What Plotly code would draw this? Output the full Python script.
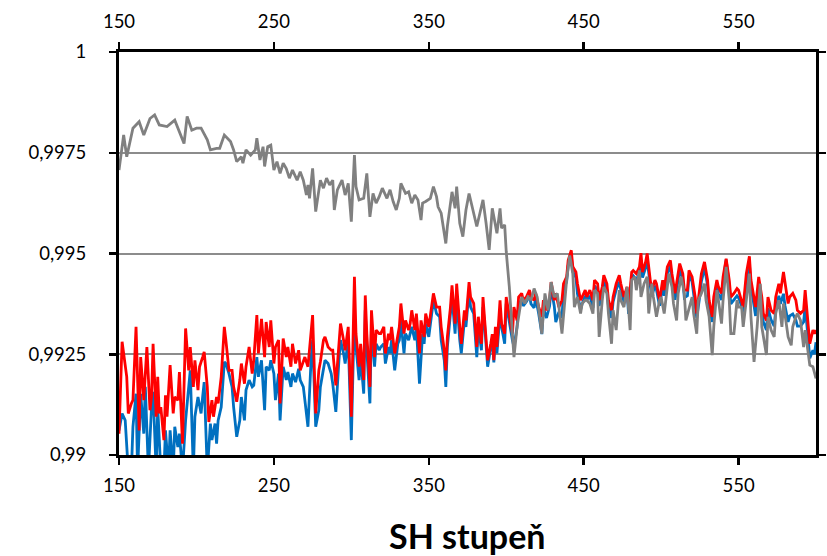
import plotly.graph_objects as go

# ---------------- data (SH degree, value) ----------------
gray_points = [
    (150, 0.99707), (153, 0.99794), (155, 0.99740), (157, 0.99773), (159, 0.99811),
    (163, 0.99827), (166, 0.99794), (170, 0.99835), (173, 0.99844), (176, 0.99819),
    (181, 0.99815), (186, 0.99831), (189, 0.99802), (192, 0.99773), (194, 0.99840),
    (197, 0.99806), (200, 0.99811), (203, 0.99811), (207, 0.99782), (209, 0.99757),
    (213, 0.99761), (215, 0.99761), (218, 0.99794), (222, 0.99778), (224, 0.99757),
    (226, 0.99728), (229, 0.99740), (230, 0.99724), (232, 0.99757), (235, 0.99744),
    (238, 0.99757), (239, 0.99786), (241, 0.99732), (243, 0.99765), (244, 0.99716),
    (246, 0.99765), (248, 0.99769), (250, 0.99707), (252, 0.99728), (254, 0.99699),
    (256, 0.99724), (258, 0.99711), (260, 0.99687), (262, 0.99707), (265, 0.99682),
    (267, 0.99703), (269, 0.99682), (271, 0.99645), (272, 0.99670), (273, 0.99637),
    (275, 0.99711), (277, 0.99604), (280, 0.99682), (282, 0.99662), (284, 0.99687),
    (286, 0.99670), (288, 0.99682), (289, 0.99608), (291, 0.99658), (294, 0.99682),
    (296, 0.99645), (298, 0.99674), (300, 0.99579), (302, 0.99744), (303, 0.99666),
    (305, 0.99633), (308, 0.99637), (310, 0.99699), (312, 0.99591), (314, 0.99649),
    (316, 0.99625), (318, 0.99641), (320, 0.99662), (323, 0.99637), (325, 0.99658),
    (327, 0.99629), (329, 0.99608), (331, 0.99637), (332, 0.99674), (335, 0.99649),
    (337, 0.99653), (339, 0.99625), (341, 0.99645), (343, 0.99633), (345, 0.99583),
    (346, 0.99625), (348, 0.99629), (351, 0.99637), (353, 0.99666), (355, 0.99641),
    (356, 0.99616), (358, 0.99600), (361, 0.99525), (362, 0.99567), (365, 0.99653),
    (367, 0.99612), (368, 0.99666), (370, 0.99575), (372, 0.99542), (374, 0.99608),
    (376, 0.99649), (379, 0.99600), (381, 0.99567), (383, 0.99600), (385, 0.99633),
    (387, 0.99575), (389, 0.99509), (391, 0.99612), (394, 0.99550), (396, 0.99612),
    (397, 0.99563), (399, 0.99571), (400, 0.99505), (402, 0.99417), (404, 0.99285),
    (405, 0.99243), (407, 0.99318), (410, 0.99392), (412, 0.99376), (414, 0.99392),
    (416, 0.99384), (418, 0.99413), (420, 0.99392), (423, 0.99301), (425, 0.99401),
    (427, 0.99359), (429, 0.99429), (431, 0.99392), (433, 0.99401), (436, 0.99301),
    (439, 0.99434), (441, 0.99495), (443, 0.99450), (444, 0.99367), (446, 0.99392),
    (448, 0.99351), (449, 0.99376), (451, 0.99384), (452, 0.99384), (454, 0.99376),
    (456, 0.99351), (457, 0.99409), (459, 0.99401), (460, 0.99293), (462, 0.99384),
    (463, 0.99417), (465, 0.99401), (466, 0.99351), (468, 0.99276), (469, 0.99359),
    (471, 0.99310), (473, 0.99409), (474, 0.99384), (476, 0.99367), (478, 0.99417),
    (480, 0.99310), (481, 0.99434), (483, 0.99442), (484, 0.99409), (486, 0.99458),
    (487, 0.99392), (489, 0.99425), (491, 0.99442), (492, 0.99351), (494, 0.99425),
    (495, 0.99392), (497, 0.99343), (499, 0.99384), (500, 0.99392), (502, 0.99351),
    (503, 0.99384), (505, 0.99450), (507, 0.99417), (508, 0.99376), (510, 0.99334),
    (511, 0.99401), (513, 0.99442), (515, 0.99401), (516, 0.99334), (518, 0.99367),
    (520, 0.99392), (521, 0.99351), (523, 0.99301), (524, 0.99384), (526, 0.99401),
    (528, 0.99425), (529, 0.99384), (531, 0.99343), (533, 0.99248), (534, 0.99318),
    (536, 0.99409), (537, 0.99384), (539, 0.99326), (540, 0.99384), (542, 0.99467),
    (544, 0.99384), (545, 0.99301), (547, 0.99301), (549, 0.99384), (550, 0.99367),
    (552, 0.99367), (553, 0.99318), (555, 0.99384), (557, 0.99450), (558, 0.99343),
    (560, 0.99231), (562, 0.99318), (564, 0.99425), (565, 0.99318), (567, 0.99268),
    (568, 0.99248), (569, 0.99343), (571, 0.99310), (573, 0.99293), (574, 0.99351),
    (576, 0.99384), (578, 0.99318), (579, 0.99376), (581, 0.99318), (582, 0.99293),
    (584, 0.99272), (585, 0.99318), (587, 0.99343), (588, 0.99351), (590, 0.99334),
    (592, 0.99268), (593, 0.99310), (595, 0.99243), (596, 0.99223), (598, 0.99219),
    (600, 0.99190),
]

red_points = [
    (150, 0.99053), (152, 0.99281), (155, 0.99194), (156, 0.99103), (158, 0.99128),
    (159, 0.99136), (161, 0.99318), (163, 0.99061), (164, 0.99243), (166, 0.99136),
    (168, 0.99268), (170, 0.99111), (171, 0.99144), (172, 0.99276), (174, 0.99095),
    (175, 0.99194), (176, 0.99103), (177, 0.99119), (179, 0.99037), (180, 0.99148),
    (181, 0.99095), (183, 0.99223), (185, 0.99103), (186, 0.99144), (188, 0.99136),
    (189, 0.99206), (191, 0.99028), (193, 0.99314), (195, 0.99210), (196, 0.99268),
    (198, 0.99169), (199, 0.99235), (201, 0.99161), (202, 0.99219), (204, 0.99243),
    (205, 0.99256), (207, 0.99169), (208, 0.99082), (210, 0.99136), (211, 0.99095),
    (213, 0.99144), (214, 0.99128), (216, 0.99194), (218, 0.99318), (219, 0.99285),
    (221, 0.99210), (223, 0.99210), (224, 0.99169), (226, 0.99132), (228, 0.99186),
    (229, 0.99227), (231, 0.99177), (232, 0.99219), (234, 0.99268), (236, 0.99202),
    (237, 0.99235), (239, 0.99347), (240, 0.99252), (242, 0.99338), (244, 0.99243),
    (245, 0.99330), (247, 0.99268), (248, 0.99334), (250, 0.99227), (251, 0.99268),
    (253, 0.99285), (254, 0.99128), (256, 0.99289), (258, 0.99243), (259, 0.99268),
    (261, 0.99219), (262, 0.99276), (264, 0.99227), (266, 0.99260), (267, 0.99210),
    (269, 0.99235), (270, 0.99243), (272, 0.99219), (274, 0.99293), (275, 0.99347),
    (277, 0.99103), (279, 0.99210), (280, 0.99231), (282, 0.99285), (283, 0.99293),
    (285, 0.99268), (287, 0.99260), (288, 0.99260), (290, 0.99173), (292, 0.99285),
    (293, 0.99326), (295, 0.99285), (296, 0.99260), (298, 0.99318), (300, 0.99095),
    (302, 0.99442), (303, 0.99301), (305, 0.99219), (306, 0.99276), (308, 0.99186),
    (309, 0.99396), (310, 0.99301), (312, 0.99169), (313, 0.99359), (315, 0.99243),
    (316, 0.99310), (318, 0.99301), (319, 0.99301), (321, 0.99318), (322, 0.99252),
    (324, 0.99301), (325, 0.99285), (326, 0.99318), (328, 0.99252), (330, 0.99301),
    (331, 0.99318), (332, 0.99376), (334, 0.99301), (335, 0.99334), (337, 0.99310),
    (338, 0.99326), (339, 0.99359), (341, 0.99310), (342, 0.99351), (344, 0.99252),
    (345, 0.99334), (347, 0.99293), (348, 0.99351), (350, 0.99318), (352, 0.99384),
    (353, 0.99401), (355, 0.99367), (357, 0.99367), (358, 0.99318), (360, 0.99260),
    (361, 0.99210), (362, 0.99293), (364, 0.99367), (365, 0.99421), (367, 0.99326),
    (368, 0.99425), (370, 0.99318), (371, 0.99276), (373, 0.99359), (374, 0.99334),
    (376, 0.99429), (377, 0.99392), (379, 0.99376), (381, 0.99268), (382, 0.99343),
    (384, 0.99276), (385, 0.99392), (386, 0.99343), (388, 0.99235), (390, 0.99276),
    (391, 0.99300), (392, 0.99235), (393, 0.99318), (394, 0.99268), (396, 0.99384),
    (397, 0.99326), (399, 0.99301), (400, 0.99392), (402, 0.99343), (404, 0.99301),
    (405, 0.99367), (407, 0.99334), (408, 0.99392), (410, 0.99401), (411, 0.99384),
    (413, 0.99392), (415, 0.99409), (416, 0.99392), (418, 0.99384), (419, 0.99401),
    (421, 0.99367), (423, 0.99343), (424, 0.99384), (426, 0.99359), (428, 0.99384),
    (429, 0.99429), (431, 0.99384), (432, 0.99401), (434, 0.99367), (436, 0.99384),
    (437, 0.99425), (439, 0.99442), (440, 0.99483), (442, 0.99508), (443, 0.99467),
    (445, 0.99454), (446, 0.99425), (448, 0.99384), (449, 0.99392), (451, 0.99409),
    (452, 0.99392), (454, 0.99409), (456, 0.99384), (457, 0.99434), (459, 0.99425),
    (460, 0.99384), (462, 0.99417), (463, 0.99446), (465, 0.99425), (466, 0.99384),
    (468, 0.99359), (469, 0.99392), (471, 0.99425), (473, 0.99446), (474, 0.99425),
    (476, 0.99392), (478, 0.99417), (479, 0.99367), (481, 0.99454), (482, 0.99458),
    (484, 0.99450), (486, 0.99467), (487, 0.99501), (488, 0.99454), (490, 0.99479),
    (491, 0.99500), (493, 0.99434), (494, 0.99409), (496, 0.99434), (497, 0.99425),
    (499, 0.99384), (501, 0.99434), (502, 0.99409), (504, 0.99467), (506, 0.99483),
    (507, 0.99450), (509, 0.99401), (510, 0.99425), (512, 0.99475), (514, 0.99450),
    (515, 0.99409), (517, 0.99409), (518, 0.99458), (520, 0.99442), (522, 0.99392),
    (523, 0.99351), (525, 0.99409), (526, 0.99450), (528, 0.99479), (530, 0.99434),
    (531, 0.99384), (533, 0.99343), (534, 0.99392), (536, 0.99434), (537, 0.99417),
    (539, 0.99401), (540, 0.99442), (542, 0.99487), (544, 0.99434), (545, 0.99392),
    (547, 0.99401), (549, 0.99413), (550, 0.99409), (552, 0.99384), (553, 0.99367),
    (555, 0.99450), (557, 0.99493), (558, 0.99434), (560, 0.99392), (561, 0.99367),
    (563, 0.99442), (565, 0.99392), (566, 0.99351), (568, 0.99334), (569, 0.99392),
    (571, 0.99359), (573, 0.99351), (574, 0.99392), (576, 0.99425), (577, 0.99401),
    (579, 0.99454), (580, 0.99425), (582, 0.99376), (583, 0.99392), (585, 0.99401),
    (587, 0.99384), (588, 0.99359), (590, 0.99351), (592, 0.99359), (593, 0.99409),
    (595, 0.99318), (596, 0.99276), (598, 0.99310), (599, 0.99301), (600, 0.99310),
]

blue_points = [
    (150, 0.99061), (152, 0.99103), (154, 0.99086), (156, 0.98960), (158, 0.98960),
    (159, 0.99070), (161, 0.99152), (162, 0.98960), (164, 0.99152), (166, 0.99053),
    (167, 0.99169), (169, 0.98960), (171, 0.99119), (172, 0.99157), (174, 0.98960),
    (175, 0.99119), (177, 0.98960), (179, 0.98960), (180, 0.99061), (182, 0.98960),
    (183, 0.99061), (185, 0.98960), (186, 0.99070), (188, 0.99020), (189, 0.99053),
    (191, 0.98960), (193, 0.99086), (195, 0.99177), (196, 0.99210), (198, 0.98960),
    (199, 0.99095), (201, 0.99144), (203, 0.99103), (204, 0.99144), (205, 0.99181),
    (207, 0.98960), (209, 0.99078), (210, 0.99037), (212, 0.99078), (213, 0.99028),
    (214, 0.99086), (216, 0.99119), (218, 0.99231), (219, 0.99227), (221, 0.99202),
    (223, 0.99169), (224, 0.99119), (226, 0.99045), (228, 0.99086), (229, 0.99144),
    (231, 0.99086), (232, 0.99161), (234, 0.99186), (236, 0.99169), (237, 0.99173),
    (239, 0.99243), (240, 0.99194), (242, 0.99235), (244, 0.99111), (245, 0.99219),
    (247, 0.99210), (248, 0.99235), (250, 0.99202), (251, 0.99136), (253, 0.99202),
    (254, 0.99086), (256, 0.99219), (258, 0.99186), (259, 0.99206), (261, 0.99169),
    (262, 0.99202), (264, 0.99181), (266, 0.99214), (267, 0.99186), (269, 0.99169),
    (270, 0.99136), (272, 0.99070), (274, 0.99235), (275, 0.99285), (277, 0.99070),
    (279, 0.99111), (280, 0.99169), (282, 0.99219), (283, 0.99235), (285, 0.99227),
    (287, 0.99202), (288, 0.99177), (290, 0.99107), (292, 0.99235), (293, 0.99285),
    (295, 0.99252), (296, 0.99227), (298, 0.99285), (300, 0.99037), (302, 0.99359),
    (303, 0.99268), (305, 0.99186), (306, 0.99243), (308, 0.99152), (309, 0.99359),
    (310, 0.99260), (312, 0.99128), (313, 0.99318), (315, 0.99219), (316, 0.99276),
    (318, 0.99260), (319, 0.99268), (321, 0.99276), (322, 0.99227), (324, 0.99268),
    (325, 0.99252), (326, 0.99285), (328, 0.99210), (330, 0.99276), (331, 0.99285),
    (332, 0.99334), (334, 0.99252), (335, 0.99301), (337, 0.99285), (338, 0.99301),
    (339, 0.99318), (341, 0.99285), (342, 0.99318), (344, 0.99177), (346, 0.99301),
    (347, 0.99276), (348, 0.99326), (350, 0.99293), (352, 0.99359), (353, 0.99384),
    (355, 0.99351), (357, 0.99343), (358, 0.99285), (360, 0.99235), (361, 0.99169),
    (362, 0.99268), (364, 0.99351), (365, 0.99392), (367, 0.99301), (368, 0.99392),
    (370, 0.99285), (371, 0.99252), (373, 0.99334), (374, 0.99318), (376, 0.99409),
    (377, 0.99367), (379, 0.99351), (381, 0.99243), (382, 0.99318), (384, 0.99260),
    (385, 0.99367), (386, 0.99326), (388, 0.99219), (390, 0.99260), (391, 0.99290),
    (392, 0.99230), (393, 0.99285), (394, 0.99252), (396, 0.99351), (397, 0.99318),
    (399, 0.99276), (400, 0.99376), (402, 0.99326), (404, 0.99285), (405, 0.99268),
    (407, 0.99318), (408, 0.99376), (410, 0.99384), (411, 0.99370), (413, 0.99380),
    (415, 0.99395), (416, 0.99375), (418, 0.99365), (419, 0.99390), (421, 0.99350),
    (423, 0.99300), (424, 0.99365), (426, 0.99340), (428, 0.99370), (429, 0.99415),
    (431, 0.99370), (432, 0.99330), (434, 0.99355), (436, 0.99340), (437, 0.99410),
    (439, 0.99430), (440, 0.99470), (442, 0.99495), (443, 0.99455), (445, 0.99440),
    (446, 0.99400), (448, 0.99360), (449, 0.99375), (451, 0.99395), (452, 0.99385),
    (454, 0.99395), (456, 0.99365), (457, 0.99420), (459, 0.99410), (460, 0.99370),
    (462, 0.99405), (463, 0.99430), (465, 0.99410), (466, 0.99370), (468, 0.99340),
    (469, 0.99380), (471, 0.99410), (473, 0.99430), (474, 0.99410), (476, 0.99380),
    (478, 0.99405), (479, 0.99350), (481, 0.99440), (482, 0.99445), (484, 0.99435),
    (486, 0.99450), (487, 0.99480), (488, 0.99440), (490, 0.99465), (491, 0.99485),
    (493, 0.99420), (494, 0.99395), (496, 0.99420), (497, 0.99410), (499, 0.99370),
    (501, 0.99420), (502, 0.99395), (504, 0.99450), (506, 0.99470), (507, 0.99435),
    (509, 0.99385), (510, 0.99410), (512, 0.99460), (514, 0.99435), (515, 0.99390),
    (517, 0.99395), (518, 0.99445), (520, 0.99430), (522, 0.99375), (523, 0.99340),
    (525, 0.99395), (526, 0.99430), (528, 0.99465), (530, 0.99420), (531, 0.99370),
    (533, 0.99330), (534, 0.99380), (536, 0.99420), (537, 0.99400), (539, 0.99385),
    (540, 0.99430), (542, 0.99485), (544, 0.99420), (545, 0.99375), (547, 0.99385),
    (549, 0.99395), (550, 0.99390), (552, 0.99370), (553, 0.99350), (555, 0.99430),
    (557, 0.99475), (558, 0.99420), (560, 0.99370), (561, 0.99345), (563, 0.99420),
    (565, 0.99370), (566, 0.99330), (568, 0.99310), (569, 0.99365), (571, 0.99335),
    (573, 0.99320), (574, 0.99360), (576, 0.99395), (577, 0.99375), (579, 0.99400),
    (580, 0.99370), (582, 0.99330), (583, 0.99345), (585, 0.99350), (587, 0.99335),
    (588, 0.99320), (590, 0.99320), (592, 0.99330), (593, 0.99370), (595, 0.99285),
    (596, 0.99240), (598, 0.99260), (599, 0.99250), (600, 0.99280),
]

x_ticks = [150, 250, 350, 450, 550]
y_ticks = [0.99, 0.9925, 0.995, 0.9975, 1.0]
y_tick_labels = ["0,99", "0,9925", "0,995", "0,9975", "1"]
x_title = "SH stupeň"

# ---------------- figure ----------------
FONT = "Lato, 'Open Sans', sans-serif"

def unzip(points):
    return [p[0] for p in points], [p[1] for p in points]

fig = go.Figure()
for pts, color in [(blue_points, "#0070C0"), (red_points, "#FF0000"), (gray_points, "#808080")]:
    xs, ys = unzip(pts)
    fig.add_trace(go.Scatter(x=xs, y=ys, mode="lines",
                             line=dict(color=color, width=2.8),
                             showlegend=False, hoverinfo="skip"))

# helper trace so that the top axis is drawn
gx, _ = unzip(gray_points)
fig.add_trace(go.Scatter(x=[gx[0], gx[-1]], y=[None, None], xaxis="x2",
                         mode="lines", showlegend=False, hoverinfo="skip"))

axis_common = dict(
    showline=True, linecolor="black", linewidth=3,
    ticks="outside", ticklen=7, tickwidth=2.5, tickcolor="black",
    tickfont=dict(family=FONT, size=18.5, color="black"),
    zeroline=False, automargin=False,
)

fig.update_layout(
    width=827, height=556,
    margin=dict(l=119, r=11, t=52, b=101, autoexpand=False),
    plot_bgcolor="white", paper_bgcolor="white",
    xaxis=dict(range=[150, 600], tickvals=x_ticks, showgrid=False,
               ticklabelstandoff=5, **axis_common),
    xaxis2=dict(range=[150, 600], tickvals=x_ticks, showgrid=False,
                overlaying="x", side="top", anchor="y",
                ticklabelstandoff=7, **axis_common),
    yaxis=dict(range=[0.99, 1.0], tickvals=y_ticks, ticktext=y_tick_labels,
               showgrid=True, gridcolor="#8C8C8C", gridwidth=2,
               mirror="ticks", ticklabelstandoff=19, **axis_common),
    annotations=[dict(text="<b>" + x_title + "</b>", xref="paper", yref="paper",
                      x=0.5, y=-0.199, xanchor="center", yanchor="middle",
                      showarrow=False,
                      font=dict(family=FONT, size=34, color="black"))],
)

fig.write_html("out.html",
               config={"displayModeBar": False, "staticPlot": True},
               post_script="document.body.style.margin='0';document.body.style.overflow='hidden';")
